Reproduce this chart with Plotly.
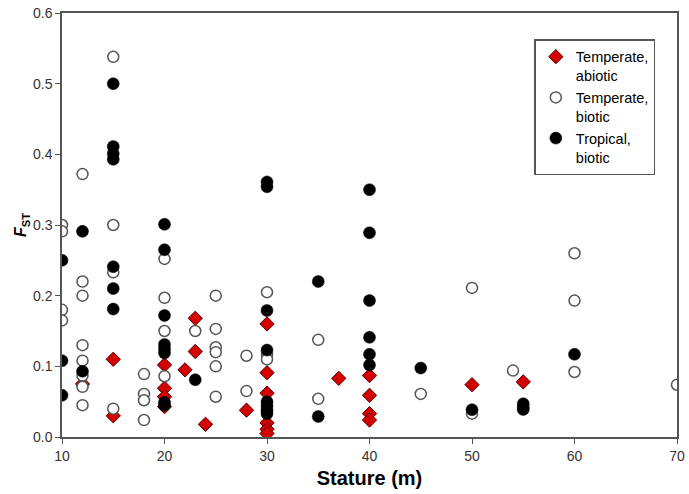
import plotly.graph_objects as go

# Temperate, abiotic (red diamonds)
abiotic_x = [12, 15, 15, 20, 20, 20, 20, 22, 23, 23, 24, 28, 30, 30, 30, 30, 30, 30, 37, 40, 40, 40, 40, 50, 55]
abiotic_y = [0.075, 0.110, 0.030, 0.102, 0.069, 0.057, 0.043, 0.095, 0.168, 0.121, 0.018, 0.038,
             0.160, 0.091, 0.062, 0.020, 0.011, 0.005, 0.083, 0.087, 0.059, 0.033, 0.024, 0.074, 0.078]

# Temperate, biotic (open circles)
temp_biotic_x = [10, 10, 10, 10,
                 12, 12, 12, 12, 12, 12, 12, 12,
                 15, 15, 15, 15,
                 18, 18, 18, 18,
                 20, 20, 20, 20,
                 23,
                 25, 25, 25, 25, 25, 25,
                 28, 28,
                 30, 30, 30,
                 35, 35,
                 45,
                 50, 50,
                 54,
                 60, 60, 60,
                 70]
temp_biotic_y = [0.300, 0.291, 0.180, 0.165,
                 0.372, 0.220, 0.200, 0.130, 0.108, 0.087, 0.071, 0.045,
                 0.538, 0.300, 0.233, 0.040,
                 0.089, 0.061, 0.052, 0.024,
                 0.252, 0.197, 0.150, 0.086,
                 0.150,
                 0.200, 0.153, 0.127, 0.120, 0.100, 0.057,
                 0.115, 0.065,
                 0.205, 0.116, 0.110,
                 0.1375, 0.054,
                 0.061,
                 0.211, 0.033,
                 0.094,
                 0.260, 0.193, 0.092,
                 0.074]

# Tropical, biotic (filled circles)
tropical_x = [10, 10, 10,
              12, 12,
              15, 15, 15, 15, 15, 15, 15,
              20, 20, 20, 20, 20, 20, 20, 20,
              23,
              30, 30, 30, 30, 30, 30, 30, 30,
              35, 35,
              40, 40, 40, 40, 40, 40,
              45,
              50,
              55, 55, 55,
              60]
tropical_y = [0.250, 0.108, 0.059,
              0.291, 0.093,
              0.500, 0.411, 0.401, 0.393, 0.241, 0.210, 0.181,
              0.301, 0.265, 0.172, 0.131, 0.125, 0.119, 0.049, 0.045,
              0.081,
              0.361, 0.354, 0.179, 0.123, 0.050, 0.044, 0.038, 0.033,
              0.220, 0.029,
              0.350, 0.289, 0.193, 0.141, 0.117, 0.102,
              0.0975,
              0.0386,
              0.047, 0.042, 0.039,
              0.117]

x_ticks = [10, 20, 30, 40, 50, 60, 70]
y_ticks = [0.0, 0.1, 0.2, 0.3, 0.4, 0.5, 0.6]

font_family = "Liberation Sans, Arial, sans-serif"

fig = go.Figure()
fig.add_trace(go.Scatter(
    x=abiotic_x, y=abiotic_y, mode="markers", name="Temperate,<br>abiotic",
    marker=dict(symbol="diamond", size=11, color="#d40000",
                line=dict(color="#5a0000", width=1)),
))
fig.add_trace(go.Scatter(
    x=temp_biotic_x, y=temp_biotic_y, mode="markers", name="Temperate,<br>biotic",
    marker=dict(symbol="circle", size=11, color="white",
                line=dict(color="#555555", width=1.5)),
))
fig.add_trace(go.Scatter(
    x=tropical_x, y=tropical_y, mode="markers", name="Tropical,<br>biotic",
    marker=dict(symbol="circle", size=12, color="black",
                line=dict(color="black", width=0.5)),
))

axis_common = dict(
    showgrid=False, zeroline=False, showline=True, linecolor="#555555", linewidth=1.5,
    mirror=True, ticks="outside", ticklen=5, tickwidth=1.2, tickcolor="#555555",
    tickfont=dict(family=font_family, size=14, color="#333333"),
    automargin=False,
)

fig.update_layout(
    width=689, height=494,
    margin=dict(l=62, r=12, t=13, b=57),
    paper_bgcolor="white", plot_bgcolor="white",
    font=dict(family=font_family),
    xaxis=dict(range=[10, 70], tickvals=x_ticks, ticktext=[str(v) for v in x_ticks],
               title=dict(text="<b>Stature (m)</b>", font=dict(size=20, color="black"), standoff=8),
               **axis_common),
    yaxis=dict(range=[0, 0.6], tickvals=y_ticks, ticktext=[f"{v:.1f}" for v in y_ticks],
               title=dict(text="<b><i>F</i><sub>ST</sub></b>", font=dict(size=16, color="black"), standoff=2),
               **axis_common),
    legend=dict(x=0.768, y=0.938, xanchor="left", yanchor="top",
                bgcolor="white", bordercolor="#555555", borderwidth=1.5,
                font=dict(family=font_family, size=14.5, color="black"),
                valign="top", itemwidth=30, tracegroupgap=0),
    showlegend=True,
)

fig.write_html(
    "out.html",
    config={"displayModeBar": False},
    post_script="document.body.style.margin='0';document.body.style.overflow='hidden';",
)
